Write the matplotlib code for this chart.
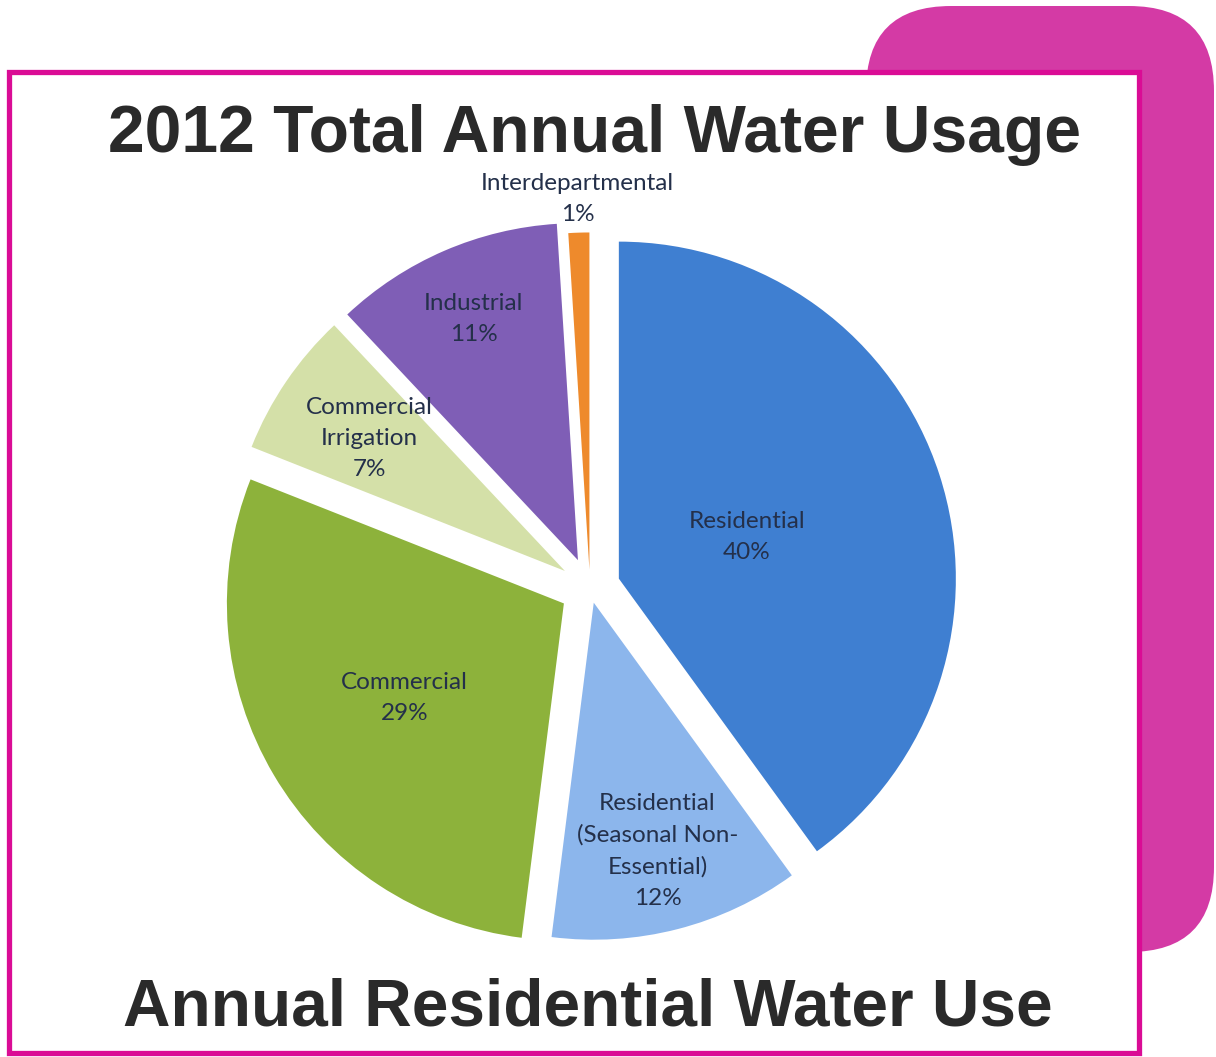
import numpy as np
import matplotlib.pyplot as plt
from matplotlib.patches import FancyBboxPatch, Rectangle

# slice data, clockwise from 12 o'clock
categories = ["Residential", "Residential\n(Seasonal Non-\nEssential)", "Commercial",
              "Commercial\nIrrigation", "Industrial", "Interdepartmental"]
shares = [40, 12, 29, 7, 11, 1]

colors = ["#3F7FD1", "#8CB6EC", "#8DB23B", "#D4E0A8", "#7F5EB6", "#EE8A2C"]
explode = [0.09, 0.045, 0.09, 0.09, 0.09, 0.055]
label_radius = [0.40, 0.76, 0.55, 0.70, 0.78, 1.10]

W, H = 1216, 1057
fig = plt.figure(figsize=(W / 100, H / 100), dpi=100)

# background frame (pixel coordinates)
bg = fig.add_axes([0, 0, 1, 1])
bg.set_xlim(0, W)
bg.set_ylim(H, 0)
bg.axis("off")
bg.add_patch(FancyBboxPatch((866, 6), 348, 946, boxstyle="round,pad=0,rounding_size=85",
                            fc="#D43AA5", ec="none"))
bg.add_patch(Rectangle((9, 72), 1130, 981, fc="white", ec="#DA0C95", lw=3.8))

bg.text(595, 135, "2012 Total Annual Water Usage", ha="center", va="center",
        fontsize=47.5, fontweight="bold", family="Liberation Sans", color="#2A2A2A")
bg.text(588, 1009, "Annual Residential Water Use", ha="center", va="center",
        fontsize=47.3, fontweight="bold", family="Liberation Sans", color="#2A2A2A")

# pie axes: centre at (590, 588) px, radius 337 px
cx, cy, r_px, lim = 590, 588, 337, 1.3
half = lim * r_px
ax = fig.add_axes([(cx - half) / W, (H - cy - half) / H, 2 * half / W, 2 * half / H])
wedges, _ = ax.pie(shares, colors=colors, explode=explode, startangle=90,
                   counterclock=False, wedgeprops={"linewidth": 0})
ax.set_xlim(-lim, lim)
ax.set_ylim(-lim, lim)
ax.set_aspect("equal")
ax.axis("off")

for w, name, val, lr in zip(wedges, categories, shares, label_radius):
    mid = np.deg2rad((w.theta1 + w.theta2) / 2)
    x = w.center[0] + lr * np.cos(mid)
    y = w.center[1] + lr * np.sin(mid)
    ax.text(x, y, f"{name}\n{val}%", ha="center", va="center", fontsize=17.5,
            family="Lato", color="#24304A", linespacing=1.6)

fig.savefig("out.png", dpi=100)
